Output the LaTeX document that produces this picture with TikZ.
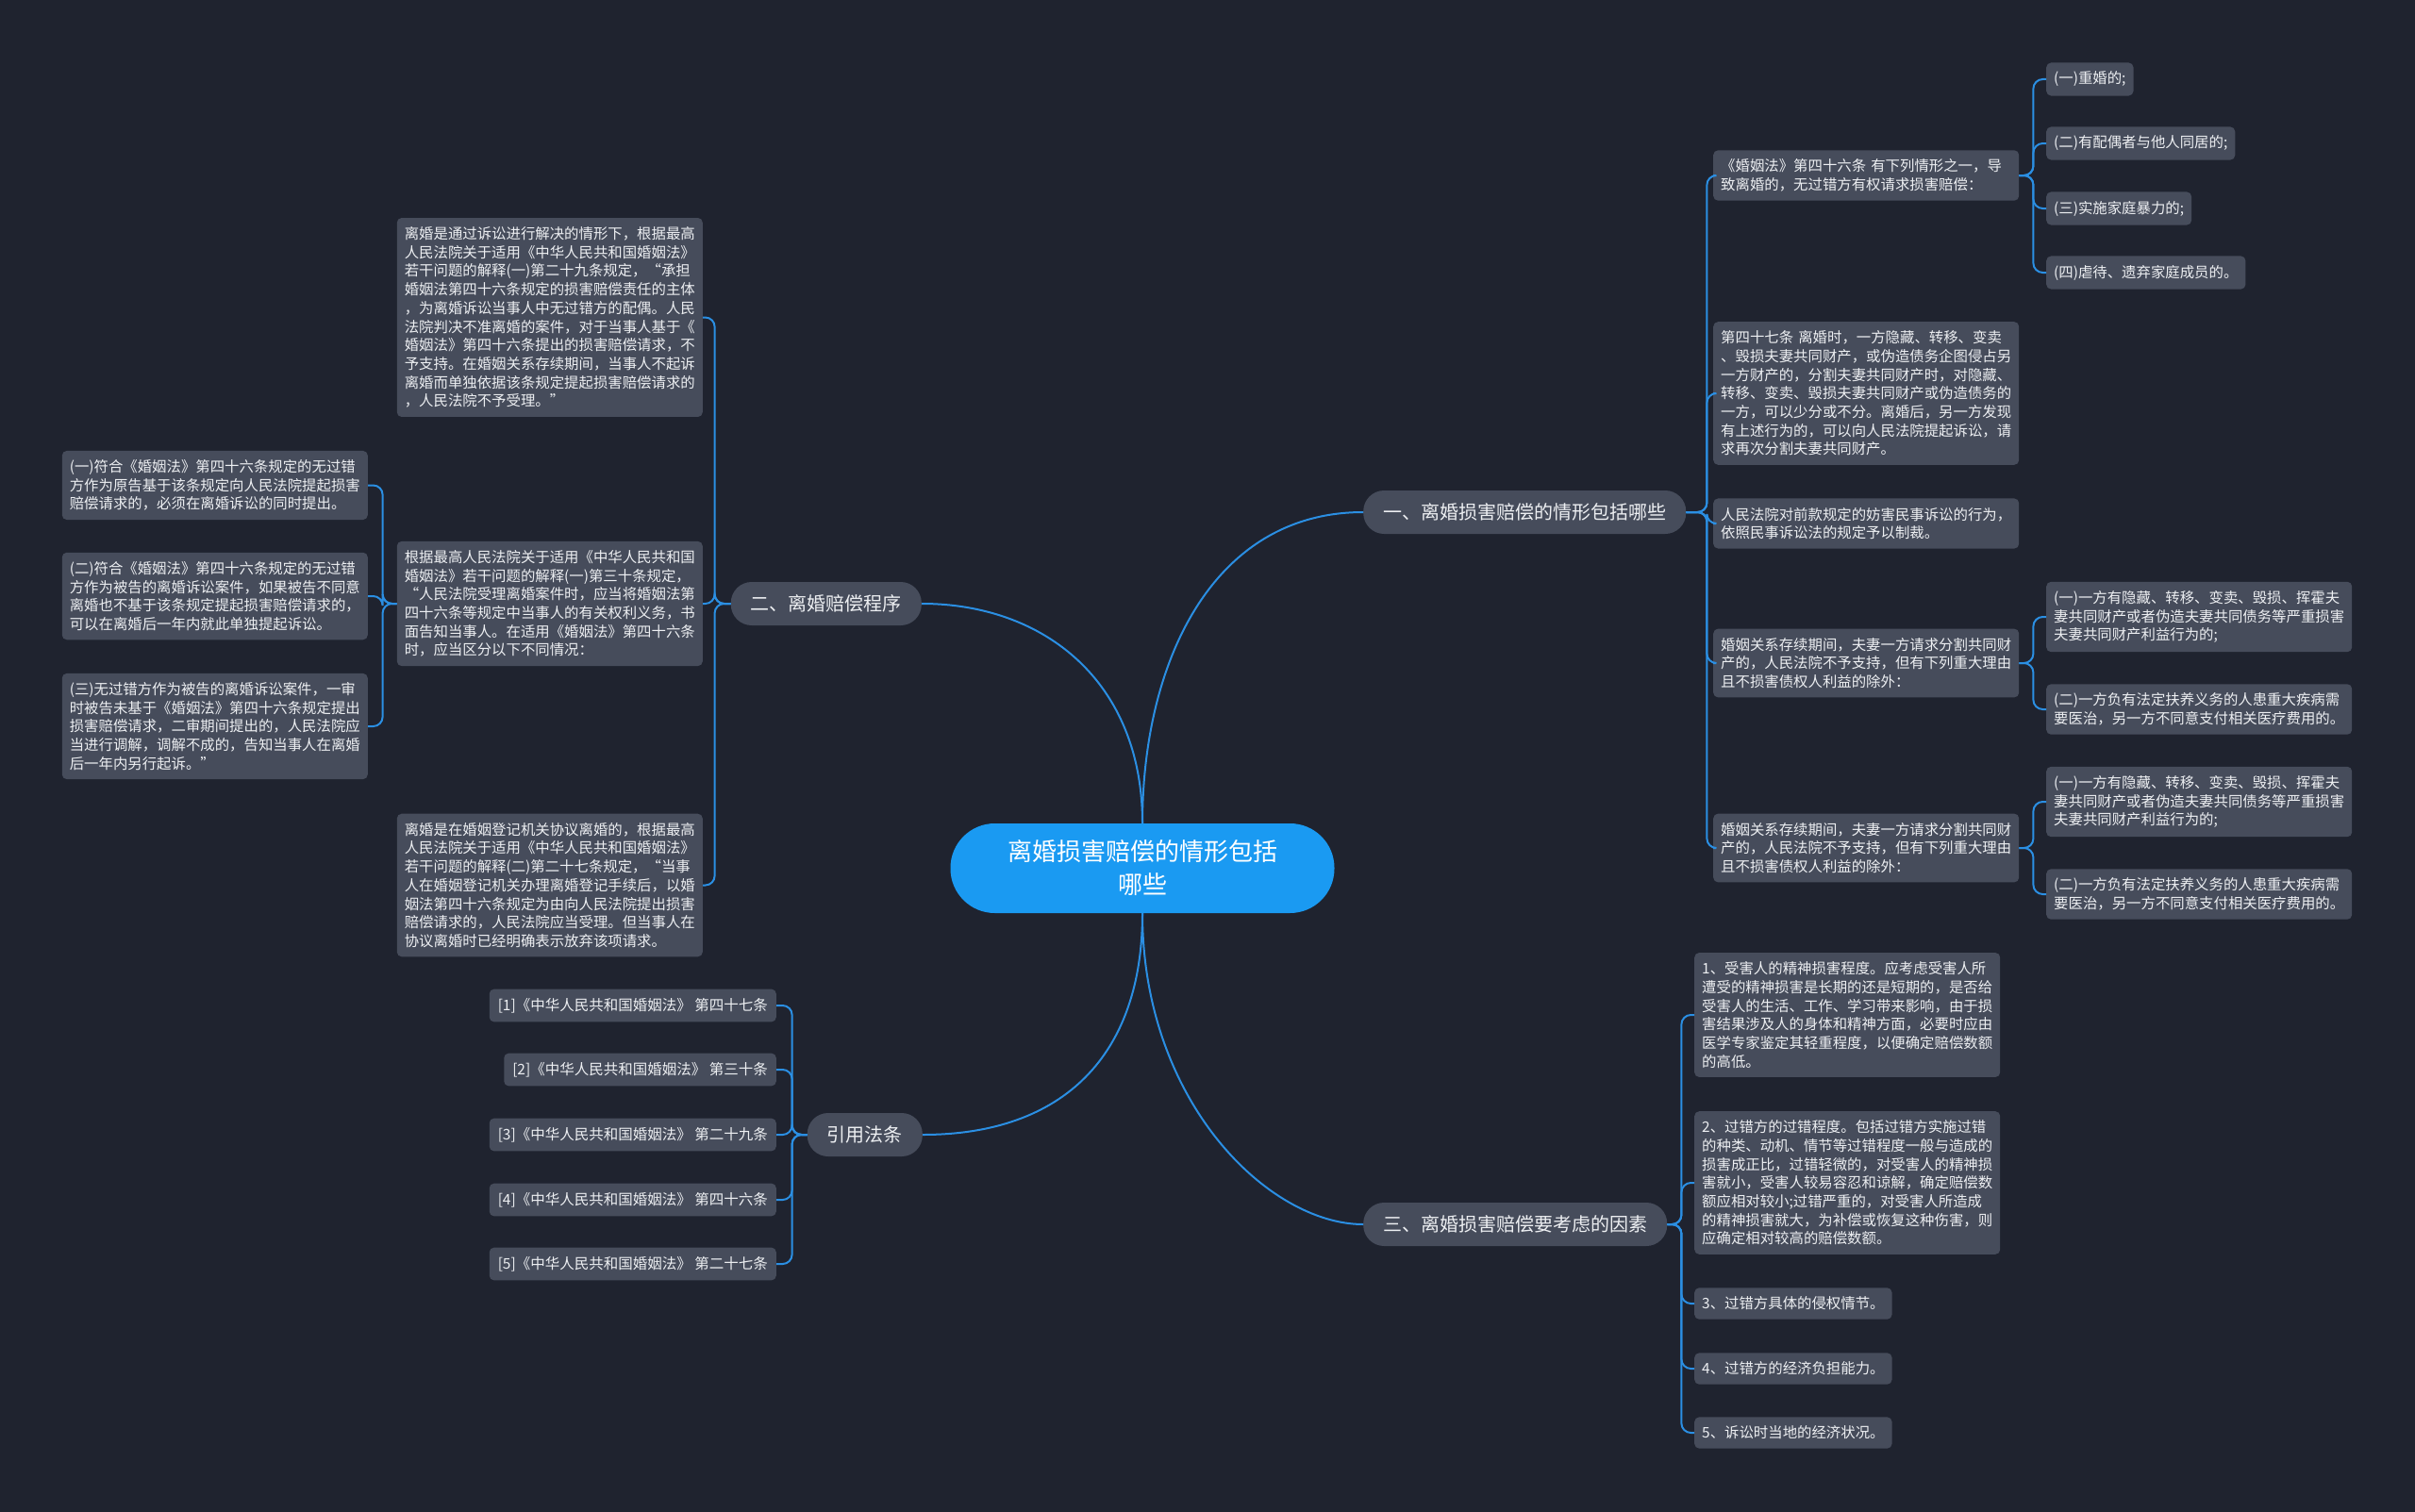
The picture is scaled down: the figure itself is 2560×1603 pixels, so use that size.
\documentclass[tikz,border=0pt]{standalone}
\usepackage{fontspec}
\newfontfamily\cjk{Noto Sans CJK SC}
\usetikzlibrary{positioning}
\definecolor{bgdark}{HTML}{1F232F}
\definecolor{boxgray}{HTML}{464C5B}
\definecolor{lineblue}{HTML}{2B8FE3}
\definecolor{rootblue}{HTML}{1A9AF2}
\definecolor{textwhite}{HTML}{EDEFF2}
\tikzstyle{root}=[fill=rootblue, text=white, rounded corners=47pt, minimum width=407pt, minimum height=95pt, align=center, font=\cjk\fontsize{26}{35}\selectfont]
\tikzstyle{branch}=[fill=boxgray, text=textwhite, rounded corners=22pt, minimum height=46pt, inner xsep=21pt, font=\cjk\fontsize{20}{24}\selectfont]
\tikzstyle{leaf}=[fill=boxgray, text=textwhite, rounded corners=5pt, inner xsep=8pt, inner ysep=9.5pt, font=\cjk\fontsize{15.4}{19.7}\selectfont]
\tikzstyle{note}=[leaf, text width=308pt, align=left]
\tikzstyle{cite}=[leaf, inner xsep=9pt, font=\cjk\fontsize{15.5}{19}\selectfont]
\tikzstyle{link}=[draw=lineblue, line width=2pt, rounded corners=10pt]
\tikzstyle{trunk}=[draw=lineblue, line width=2pt]

\begin{document}
\begin{tikzpicture}[x=1pt, y=-1pt]
  \fill[bgdark] (0,0) rectangle (2560,1603);
  \useasboundingbox (0,0) rectangle (2560,1603);

  % centre and main branches
  \node[root] (root) at (1211,920.5) {离婚损害赔偿的情形包括\\哪些};
  \node[branch, anchor=west] (b1) at (1445,543) {一、离婚损害赔偿的情形包括哪些};
  \node[branch, anchor=east] (b2) at (977,640) {二、离婚赔偿程序};
  \node[branch, anchor=west] (b3) at (1445,1298) {三、离婚损害赔偿要考虑的因素};
  \node[branch, anchor=east] (b4) at (978,1203) {引用法条};

  \path[trunk] (root.north) .. controls +(0,-170) and +(-160,0) .. (b1.west);
  \path[trunk] (root.north) .. controls +(0,-150) and +(130,0) .. (b2.east);
  \path[trunk] (root.south) .. controls +(0,200) and +(-100,0) .. (b3.west);
  \path[trunk] (root.south) .. controls +(0,150) and +(150,0) .. (b4.east);

  % branch one
  \node[note, anchor=west] (r1) at (1816,186) {《婚姻法》第四十六条 有下列情形之一，导\\致离婚的，无过错方有权请求损害赔偿：};
  \node[note, anchor=west] (r2) at (1816,417) {第四十七条 离婚时，一方隐藏、转移、变卖\\、毁损夫妻共同财产，或伪造债务企图侵占另\\一方财产的，分割夫妻共同财产时，对隐藏、\\转移、变卖、毁损夫妻共同财产或伪造债务的\\一方，可以少分或不分。离婚后，另一方发现\\有上述行为的，可以向人民法院提起诉讼，请\\求再次分割夫妻共同财产。};
  \node[note, anchor=west] (r3) at (1816,555) {人民法院对前款规定的妨害民事诉讼的行为，\\依照民事诉讼法的规定予以制裁。};
  \foreach \y/\name in {703/r4, 899/r5}
    \node[note, anchor=west] (\name) at (1816,\y) {婚姻关系存续期间，夫妻一方请求分割共同财\\产的，人民法院不予支持，但有下列重大理由\\且不损害债权人利益的除外：};

  \foreach \y/\name/\txt in {84/r1a/(一)重婚的;, 152/r1b/(二)有配偶者与他人同居的;, 221/r1c/(三)实施家庭暴力的;, 289/r1d/(四)虐待、遗弃家庭成员的。}
    \node[leaf, anchor=west] (\name) at (2169,\y) {\txt};

  \foreach \y/\name in {654/r4a, 850/r5a}
    \node[note, anchor=west] (\name) at (2169,\y) {(一)一方有隐藏、转移、变卖、毁损、挥霍夫\\妻共同财产或者伪造夫妻共同债务等严重损害\\夫妻共同财产利益行为的;};
  \foreach \y/\name in {752/r4b, 948/r5b}
    \node[note, anchor=west] (\name) at (2169,\y) {(二)一方负有法定扶养义务的人患重大疾病需\\要医治，另一方不同意支付相关医疗费用的。};

  \foreach \dest in {r1, r2, r3, r4, r5}
    \path[link] (b1.east) -- ++(22,0) |- (\dest.west);
  \foreach \source/\dest in {r1/r1a, r1/r1b, r1/r1c, r1/r1d, r4/r4a, r4/r4b, r5/r5a, r5/r5b}
    \path[link] (\source.east) -- ++(15,0) |- (\dest.west);

  % branch two
  \node[note, anchor=east] (p1) at (745,336.5) {离婚是通过诉讼进行解决的情形下，根据最高\\人民法院关于适用《中华人民共和国婚姻法》\\若干问题的解释(一)第二十九条规定，“承担\\婚姻法第四十六条规定的损害赔偿责任的主体\\，为离婚诉讼当事人中无过错方的配偶。人民\\法院判决不准离婚的案件，对于当事人基于《\\婚姻法》第四十六条提出的损害赔偿请求，不\\予支持。在婚姻关系存续期间，当事人不起诉\\离婚而单独依据该条规定提起损害赔偿请求的\\，人民法院不予受理。”};
  \node[note, anchor=east] (p2) at (745,640) {根据最高人民法院关于适用《中华人民共和国\\婚姻法》若干问题的解释(一)第三十条规定，\\“人民法院受理离婚案件时，应当将婚姻法第\\四十六条等规定中当事人的有关权利义务，书\\面告知当事人。在适用《婚姻法》第四十六条\\时，应当区分以下不同情况：};
  \node[note, anchor=east] (p3) at (745,938.5) {离婚是在婚姻登记机关协议离婚的，根据最高\\人民法院关于适用《中华人民共和国婚姻法》\\若干问题的解释(二)第二十七条规定，“当事\\人在婚姻登记机关办理离婚登记手续后，以婚\\姻法第四十六条规定为由向人民法院提出损害\\赔偿请求的，人民法院应当受理。但当事人在\\协议离婚时已经明确表示放弃该项请求。};

  \node[note, anchor=east] (q1) at (390,514.5) {(一)符合《婚姻法》第四十六条规定的无过错\\方作为原告基于该条规定向人民法院提起损害\\赔偿请求的，必须在离婚诉讼的同时提出。};
  \node[note, anchor=east] (q2) at (390,632) {(二)符合《婚姻法》第四十六条规定的无过错\\方作为被告的离婚诉讼案件，如果被告不同意\\离婚也不基于该条规定提起损害赔偿请求的，\\可以在离婚后一年内就此单独提起诉讼。};
  \node[note, anchor=east] (q3) at (390,770) {(三)无过错方作为被告的离婚诉讼案件，一审\\时被告未基于《婚姻法》第四十六条规定提出\\损害赔偿请求，二审期间提出的，人民法院应\\当进行调解，调解不成的，告知当事人在离婚\\后一年内另行起诉。”};

  \foreach \dest in {p1, p2, p3}
    \path[link] (b2.west) -- ++(-17,0) |- (\dest.east);
  \foreach \dest in {q1, q2, q3}
    \path[link] (p2.west) -- ++(-15,0) |- (\dest.east);

  % branch three
  \node[note, anchor=west] (t1) at (1796,1076) {1、受害人的精神损害程度。应考虑受害人所\\遭受的精神损害是长期的还是短期的，是否给\\受害人的生活、工作、学习带来影响，由于损\\害结果涉及人的身体和精神方面，必要时应由\\医学专家鉴定其轻重程度，以便确定赔偿数额\\的高低。};
  \node[note, anchor=west] (t2) at (1796,1254) {2、过错方的过错程度。包括过错方实施过错\\的种类、动机、情节等过错程度一般与造成的\\损害成正比，过错轻微的，对受害人的精神损\\害就小，受害人较易容忍和谅解，确定赔偿数\\额应相对较小;过错严重的，对受害人所造成\\的精神损害就大，为补偿或恢复这种伤害，则\\应确定相对较高的赔偿数额。};
  \foreach \y/\name/\txt in {1382/t3/3、过错方具体的侵权情节。, 1451/t4/4、过错方的经济负担能力。, 1519/t5/5、诉讼时当地的经济状况。}
    \node[leaf, anchor=west] (\name) at (1796,\y) {\txt};

  \foreach \dest in {t1, t2, t3, t4, t5}
    \path[link] (b3.east) -- ++(15,0) |- (\dest.west);

  % cited articles
  \foreach \y/\name/\txt in {1066/c1/{[1]《中华人民共和国婚姻法》 第四十七条}, 1134/c2/{[2]《中华人民共和国婚姻法》 第三十条}, 1203/c3/{[3]《中华人民共和国婚姻法》 第二十九条}, 1272/c4/{[4]《中华人民共和国婚姻法》 第四十六条}, 1340/c5/{[5]《中华人民共和国婚姻法》 第二十七条}}
    \node[cite, anchor=east] (\name) at (823,\y) {\txt};

  \foreach \dest in {c1, c2, c3, c4, c5}
    \path[link] (b4.west) -- ++(-16,0) |- (\dest.east);
\end{tikzpicture}
\end{document}
